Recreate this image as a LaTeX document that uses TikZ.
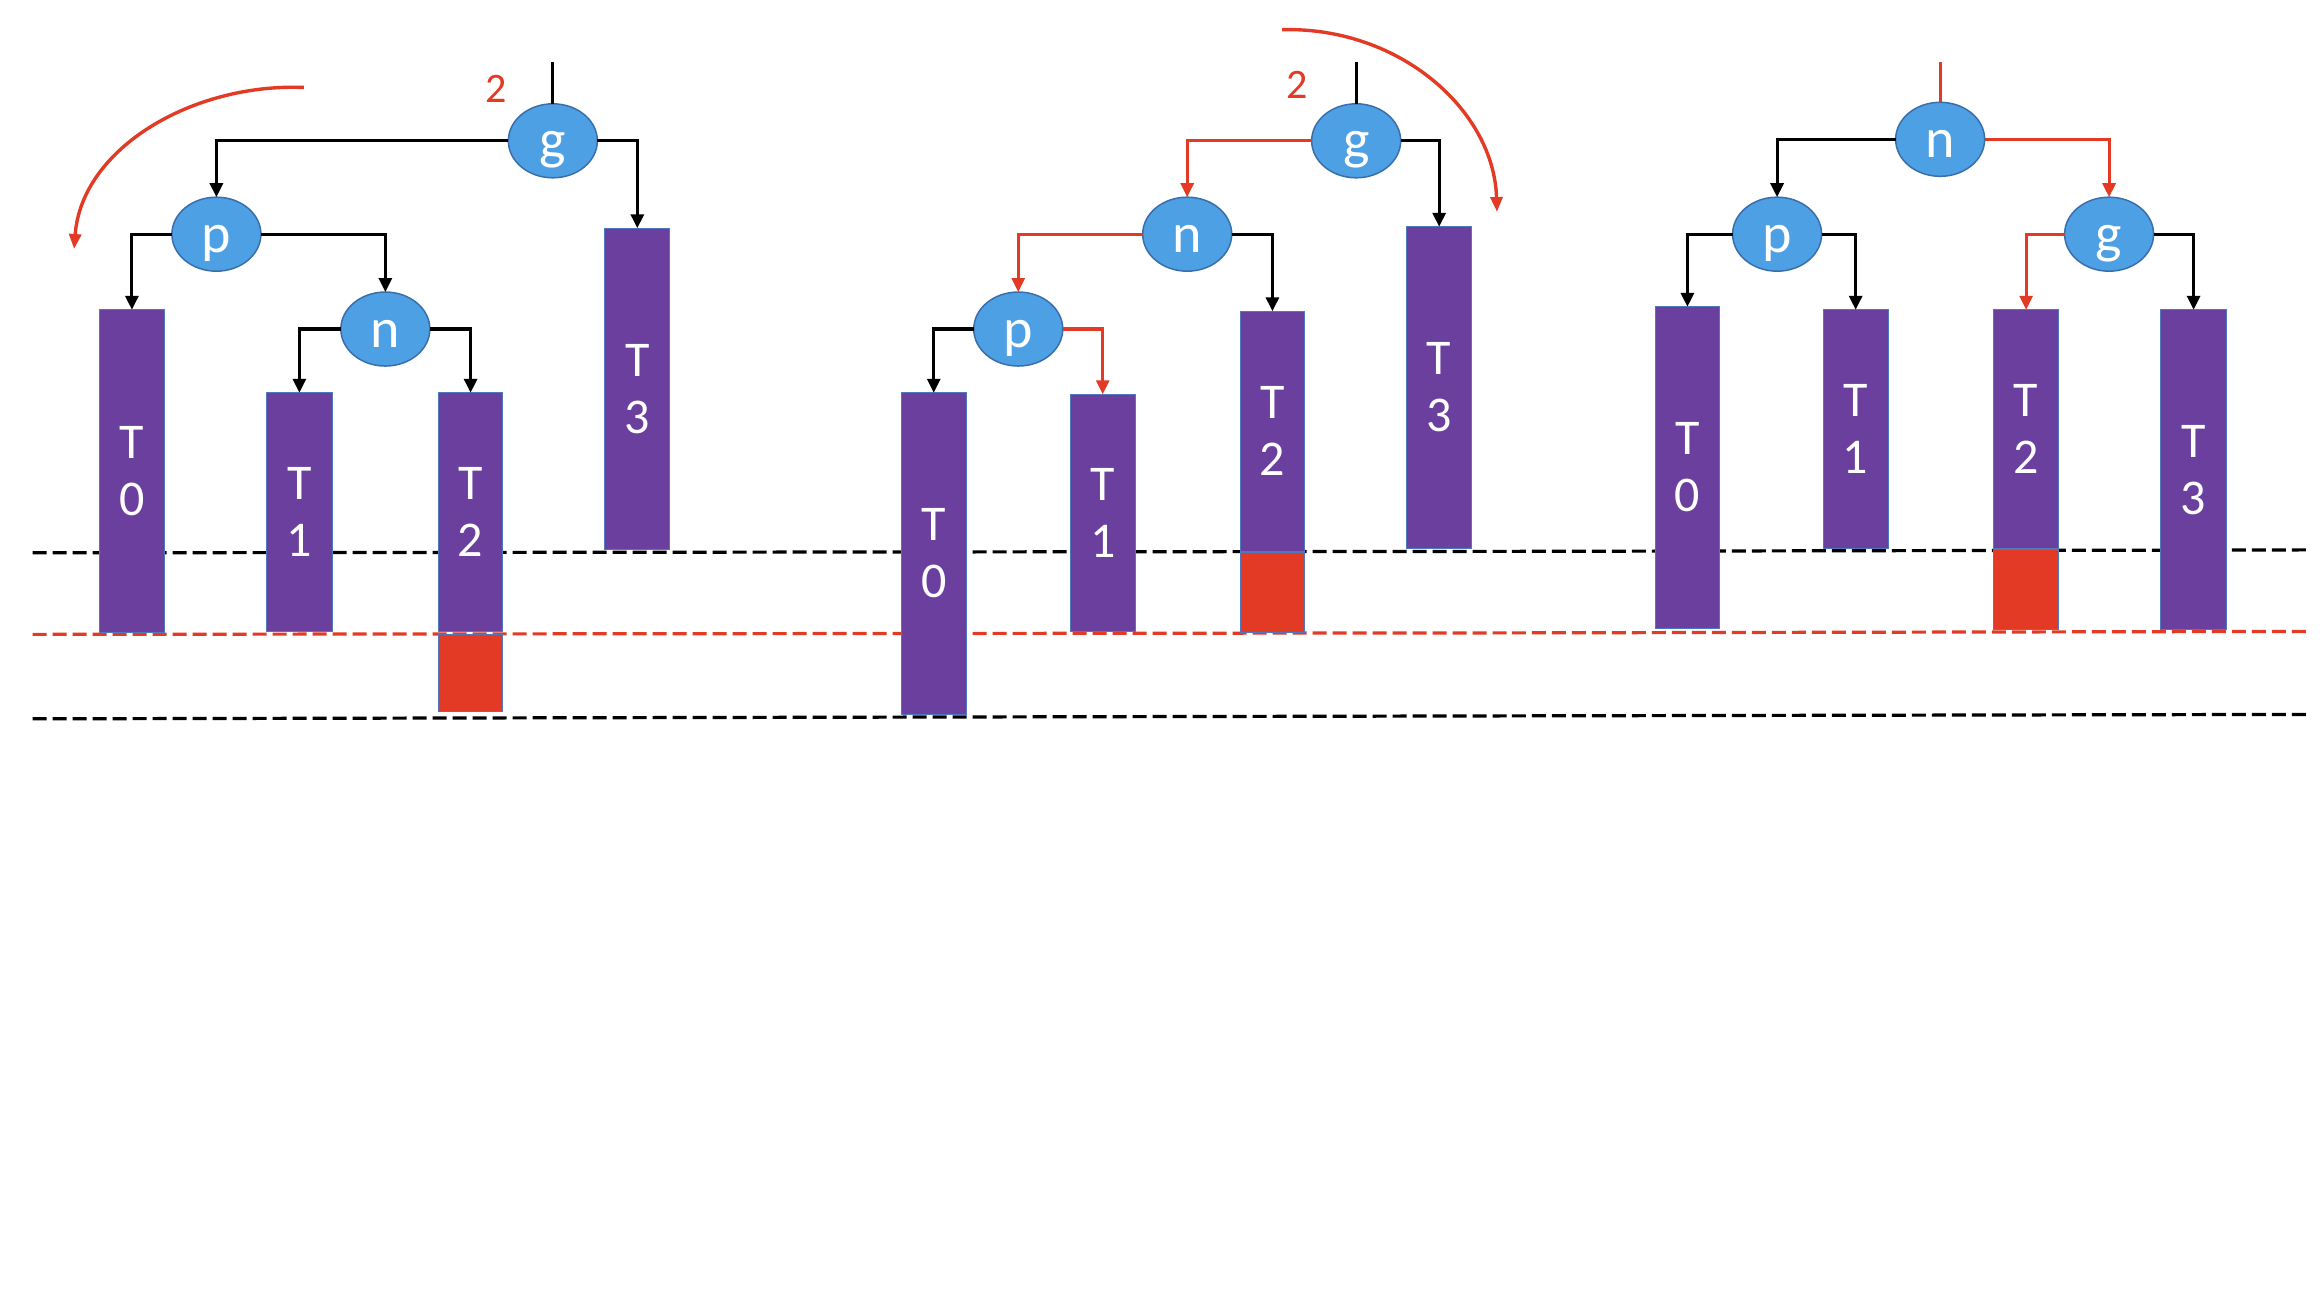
\documentclass[tikz,border=0pt]{standalone}
\usepackage{fontspec}
\setmainfont{Carlito}
\usetikzlibrary{arrows.meta,fit,shapes.geometric}
\definecolor{tpurple}{RGB}{107,63,158}
\definecolor{tborder}{RGB}{80,120,190}
\definecolor{eblue}{RGB}{78,160,228}
\definecolor{eborder}{RGB}{58,110,170}
\definecolor{rred}{RGB}{226,58,36}
\newcommand{\tstack}[1]{\vbox{\hbox to 40pt{\hss T\hss}\hbox to 40pt{\hss #1\hss}}}
\tikzset{
 tbox/.style={fill=tpurple, draw=tborder, line width=1pt, inner sep=0pt, outer sep=0pt},
 tlabel/.style={text=white, inner sep=0pt, font=\fontsize{50}{57}\selectfont},
 rbox/.style={fill=rred, draw=tborder, line width=1pt, inner sep=0pt, outer sep=0pt},
 enode/.style={ellipse, fill=eblue, draw=eborder, line width=1.5pt, minimum width=89pt, minimum height=74pt, inner sep=0pt, outer sep=0pt, text=white, font=\fontsize{56}{60}\selectfont, text height=36pt, text depth=0pt},
 blkarr/.style={draw=black, line width=3.1pt, -{Triangle[length=14pt,width=13pt]}},
 redarr/.style={draw=rred, line width=3.1pt, -{Triangle[length=14pt,width=13pt]}},
 blkline/.style={draw=black, line width=3.1pt},
 redline/.style={draw=rred, line width=3.1pt},
 redcurve/.style={draw=rred, line width=3.4pt, -{Triangle[length=15pt,width=12pt]}},
 blkdash/.style={draw=black, line width=3.2pt, dash pattern=on 14pt off 6pt},
 reddash/.style={draw=rred, line width=3.2pt, dash pattern=on 14pt off 6pt},
 twolab/.style={text=rred, font=\fontsize{42}{44}\selectfont, inner sep=0pt},
}
\begin{document}
\begin{tikzpicture}[x=1.48214pt, y=-1.48214pt]
\useasboundingbox (0,0) rectangle (1568,882);
% dashed levels
\draw[blkdash] (22,373) -- (1017,372);
\draw[blkdash] (1020,372) -- (1557,371);
\draw[reddash] (22,428) -- (1017,427);
\draw[reddash] (1020,427) -- (1557,426);
\draw[blkdash] (22,485) -- (1017,483);
\draw[blkdash] (1020,483) -- (1557,482);

% ---------------- panel 1 ----------------
\node[enode] (g1) at (373,95) {g};
\node[enode] (p1) at (146,158) {p};
\node[enode] (n1) at (260,222) {n};
\node[tbox, fit={(67,209) (111,427)}, label={[tlabel]center:\tstack{0}}] (a0) {};
\node[tbox, fit={(180,265) (224,426)}, label={[tlabel]center:\tstack{1}}] (a1) {};
\node[tbox, fit={(296,265) (339,426)}, label={[tlabel]center:\tstack{2}}] (a2) {};
\node[rbox, fit={(296,428) (339,480)}] (ar) {};
\node[tbox, fit={(408,154) (452,371)}, label={[tlabel]center:\tstack{3}}] (a3) {};
\node[twolab] (two1) at (335,60) {2};
\coordinate (top1) at (373,42);
\draw[blkline] (top1) -- (g1.north);
\draw[blkarr] (g1.west) -| (p1.north);
\draw[blkarr] (g1.east) -| (a3.north);
\draw[blkarr] (p1.west) -| (a0.north);
\draw[blkarr] (p1.east) -| (n1.north);
\draw[blkarr] (n1.west) -| (a1.north);
\draw[blkarr] (n1.east) -| (a2.north);
\coordinate (arcs1) at (205,59);
\coordinate (arce1) at (50,168);
\draw[redcurve] (arcs1) .. controls (130,56) and (55,100) .. (arce1);

% ---------------- panel 2 ----------------
\node[enode] (g2) at (915,95) {g};
\node[enode] (n2) at (801,158) {n};
\node[enode] (p2) at (687,222) {p};
\node[tbox, fit={(608,265) (652,482)}, label={[tlabel]center:\tstack{0}}] (b0) {};
\node[tbox, fit={(722,266) (766,426)}, label={[tlabel]center:\tstack{1}}] (b1) {};
\node[tbox, fit={(837,210) (880,372)}, label={[tlabel]center:\tstack{2}}] (b2) {};
\node[rbox, fit={(837,373) (880,427)}] (br) {};
\node[tbox, fit={(949,153) (993,370)}, label={[tlabel]center:\tstack{3}}] (b3) {};
\node[twolab] (two2) at (875,57) {2};
\coordinate (top2) at (915,42);
\draw[blkline] (top2) -- (g2.north);
\draw[redarr] (g2.west) -| (n2.north);
\draw[blkarr] (g2.east) -| (b3.north);
\draw[redarr] (n2.west) -| (p2.north);
\draw[blkarr] (n2.east) -| (b2.north);
\draw[blkarr] (p2.west) -| (b0.north);
\draw[redarr] (p2.east) -| (b1.north);
\coordinate (arcs2) at (865,20);
\coordinate (arce2) at (1010,143);
\draw[redcurve] (arcs2) .. controls (945,18) and (1008,75) .. (arce2);

% ---------------- panel 3 ----------------
\node[enode] (n3) at (1309,94) {n};
\node[enode] (p3) at (1199,158) {p};
\node[enode] (g3) at (1423,158) {g};
\node[tbox, fit={(1117,207) (1160,424)}, label={[tlabel]center:\tstack{0}}] (c0) {};
\node[tbox, fit={(1230,209) (1274,370)}, label={[tlabel]center:\tstack{1}}] (c1) {};
\node[tbox, fit={(1345,209) (1389,370)}, label={[tlabel]center:\tstack{2}}] (c2) {};
\node[rbox, fit={(1345,371) (1389,425)}] (cr) {};
\node[tbox, fit={(1458,209) (1502,425)}, label={[tlabel]center:\tstack{3}}] (c3) {};
\coordinate (top3) at (1309,42);
\draw[redline] (top3) -- (n3.north);
\draw[blkarr] (n3.west) -| (p3.north);
\draw[redarr] (n3.east) -| (g3.north);
\draw[blkarr] (p3.west) -| (c0.north);
\draw[blkarr] (p3.east) -| (c1.north);
\draw[redarr] (g3.west) -| (c2.north);
\draw[blkarr] (g3.east) -| (c3.north);
\end{tikzpicture}
\end{document}
